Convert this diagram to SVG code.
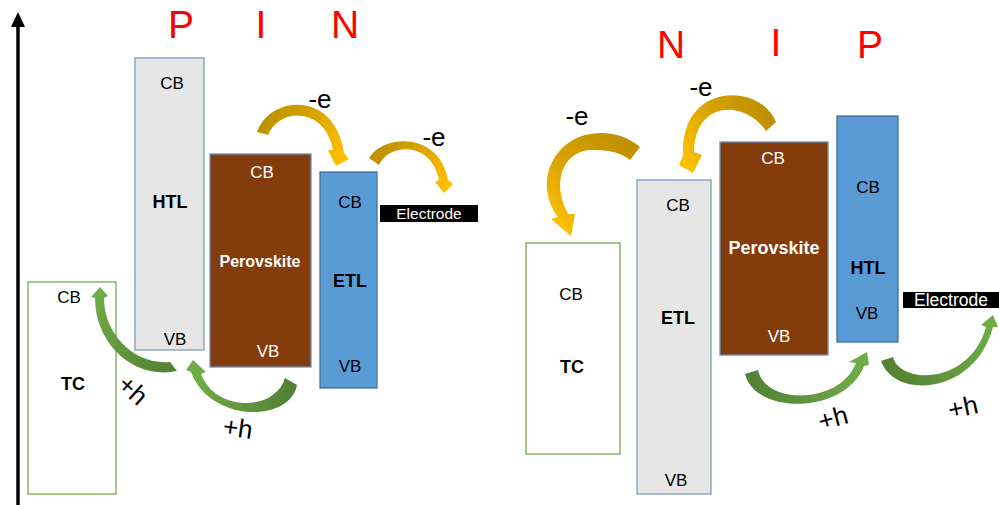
<svg xmlns="http://www.w3.org/2000/svg" width="999" height="505" viewBox="0 0 999 505">
<style>
  .t{font-family:"Liberation Sans",Arial,sans-serif;font-size:17px;text-anchor:middle;fill:#000}
  .b{font-weight:bold;font-size:18px}
  .w{fill:#fff}
  .big{font-family:"Liberation Sans",Arial,sans-serif;font-size:39px;fill:#ff0000;text-anchor:middle}
  .lab{font-family:"Liberation Sans",Arial,sans-serif;font-size:26px;fill:#000;text-anchor:middle}
  .gray{fill:#e7e6e6;stroke:#7f9bbd;stroke-width:1.3}
  .brown{fill:#843c0c;stroke:#6d8fb5;stroke-width:1.3}
  .blue{fill:#5b9bd5;stroke:#41719c;stroke-width:1.3}
  .tc{fill:#fff;stroke:#70ad47;stroke-width:1.3}
  .el{fill:#000}
</style>
<defs>
  <linearGradient id="gL1" gradientUnits="userSpaceOnUse" x1="260" y1="130" x2="340" y2="165"><stop offset="0" stop-color="#bf9000"/><stop offset="0.5" stop-color="#d9a400"/><stop offset="1" stop-color="#ffc000"/></linearGradient>
  <linearGradient id="gL2" gradientUnits="userSpaceOnUse" x1="372" y1="160" x2="444" y2="192"><stop offset="0" stop-color="#bf9000"/><stop offset="0.5" stop-color="#d9a400"/><stop offset="1" stop-color="#ffc000"/></linearGradient>
  <linearGradient id="gR1" gradientUnits="userSpaceOnUse" x1="635" y1="150" x2="565" y2="235"><stop offset="0" stop-color="#bf9000"/><stop offset="0.5" stop-color="#d9a400"/><stop offset="1" stop-color="#ffc000"/></linearGradient>
  <linearGradient id="gR2" gradientUnits="userSpaceOnUse" x1="772" y1="125" x2="690" y2="172"><stop offset="0" stop-color="#bf9000"/><stop offset="0.5" stop-color="#d9a400"/><stop offset="1" stop-color="#ffc000"/></linearGradient>
  <linearGradient id="hL1" gradientUnits="userSpaceOnUse" x1="175" y1="366" x2="100" y2="290"><stop offset="0" stop-color="#548235"/><stop offset="0.5" stop-color="#62983e"/><stop offset="1" stop-color="#70ad47"/></linearGradient>
  <linearGradient id="hL2" gradientUnits="userSpaceOnUse" x1="292" y1="380" x2="195" y2="362"><stop offset="0" stop-color="#548235"/><stop offset="0.5" stop-color="#62983e"/><stop offset="1" stop-color="#70ad47"/></linearGradient>
  <linearGradient id="hR1" gradientUnits="userSpaceOnUse" x1="750" y1="372" x2="864" y2="355"><stop offset="0" stop-color="#548235"/><stop offset="0.5" stop-color="#62983e"/><stop offset="1" stop-color="#70ad47"/></linearGradient>
  <linearGradient id="hR2" gradientUnits="userSpaceOnUse" x1="886" y1="360" x2="993" y2="318"><stop offset="0" stop-color="#548235"/><stop offset="0.5" stop-color="#62983e"/><stop offset="1" stop-color="#70ad47"/></linearGradient>
</defs>

<g id="axis">
  <line x1="18" y1="505" x2="18" y2="25" stroke="#000" stroke-width="3.5"/>
  <polygon points="11,27 25,27 18,12" fill="#000"/>
</g>

<g id="titles">
  <text class="big" x="181" y="38">P</text>
  <text class="big" x="261" y="38">I</text>
  <text class="big" x="345" y="38">N</text>
  <text class="big" x="671" y="58">N</text>
  <text class="big" x="776" y="56">I</text>
  <text class="big" x="870" y="58">P</text>
</g>

<!-- PIN side -->
<g id="pin-tc">
  <rect class="tc" x="28" y="282" width="88" height="212"/>
  <text class="t" x="69" y="303">CB</text>
  <text class="t b" x="73" y="390">TC</text>
</g>
<g id="pin-htl">
  <rect class="gray" x="135" y="58" width="69" height="292"/>
  <text class="t" x="172" y="89">CB</text>
  <text class="t b" x="170" y="208">HTL</text>
  <text class="t" x="175" y="345">VB</text>
</g>
<g id="pin-perovskite">
  <rect class="brown" x="210" y="154" width="101" height="213"/>
  <text class="t w" x="262" y="178">CB</text>
  <text class="t b w" x="260" y="267" style="font-size:16px">Perovskite</text>
  <text class="t w" x="268" y="357">VB</text>
</g>
<g id="pin-etl">
  <rect class="blue" x="320" y="172" width="57" height="216"/>
  <text class="t" x="350" y="208">CB</text>
  <text class="t b" x="350" y="287">ETL</text>
  <text class="t" x="350" y="372">VB</text>
</g>
<g id="pin-electrode">
  <rect class="el" x="380" y="205" width="98" height="17"/>
  <text class="t w" x="429" y="219" style="font-size:15.5px">Electrode</text>
</g>

<!-- NIP side -->
<g id="nip-tc">
  <rect class="tc" x="526" y="243" width="94" height="211"/>
  <text class="t" x="571" y="300">CB</text>
  <text class="t b" x="572" y="373">TC</text>
</g>
<g id="nip-etl">
  <rect class="gray" x="637" y="180" width="74" height="314"/>
  <text class="t" x="678" y="211">CB</text>
  <text class="t b" x="678" y="324">ETL</text>
  <text class="t" x="676" y="486">VB</text>
</g>
<g id="nip-perovskite">
  <rect class="brown" x="720" y="142" width="108" height="213"/>
  <text class="t w" x="773" y="164">CB</text>
  <text class="t b w" x="774" y="254">Perovskite</text>
  <text class="t w" x="779" y="342">VB</text>
</g>
<g id="nip-htl">
  <rect class="blue" x="837" y="116" width="61" height="226"/>
  <text class="t" x="868" y="193">CB</text>
  <text class="t b" x="868" y="274">HTL</text>
  <text class="t" x="867" y="319">VB</text>
</g>
<g id="nip-electrode">
  <rect class="el" x="903" y="292" width="96" height="16"/>
  <text class="t w" x="951" y="306" style="font-size:17.5px">Electrode</text>
</g>

<g id="connectors">
  <!-- PIN electrons -->
  <path fill="url(#gL1)" d="M257,132 C270,95 335,90 344,153 L349,159 L336,166 L328,150 L333,150 C325,107 280,107 268,135 Z"/>
  <path fill="url(#gL2)" d="M369,158 C385,133 440,133 448,180 L453,184 L444,193 L435,182 L439,180 C432,142 390,142 379,165 Z"/>
  <!-- PIN holes -->
  <path fill="url(#hL1)" d="M177,371 C135,380 95,345 95,298 L91,297 L100,287 L108,296 L104,298 C104,335 135,365 170,362 Z"/>
  <path fill="url(#hL2)" d="M297,385 C290,423 210,423 191,372 L186,370 L193,360 L206,372 L201,374 C215,412 275,412 285,378 Z"/>
  <!-- NIP electrons -->
  <path fill="url(#gR1)" d="M640,147 C625,134 605,130 585,135 C550,145 535,185 558,217 L551,219 L571,236 L575,214 L568,214 C550,180 565,150 592,150 C608,150 620,152 630,160 Z"/>
  <path fill="url(#gR2)" d="M776,122 C760,82 680,82 683,155 L679,165 L693,173 L702,155 L694,152 C695,100 745,100 766,131 Z"/>
  <!-- NIP holes -->
  <path fill="url(#hR1)" d="M745,374 C755,415 845,415 864,366 L869,365 L867,352 L849,362 L856,363 C840,405 765,405 758,370 Z"/>
  <path fill="url(#hR2)" d="M881,361 C895,400 975,395 993,327 L998,327 L993,315 L981,325 L986,327 C970,385 900,385 893,357 Z"/>
</g>

<g id="labels">
  <text class="lab" x="320" y="108">-e</text>
  <text class="lab" x="434" y="146">-e</text>
  <text class="lab" x="577" y="125">-e</text>
  <text class="lab" x="701" y="96">-e</text>
  <text class="lab" transform="translate(133,390) rotate(42)" x="0" y="9">+h</text>
  <text class="lab" transform="translate(238,428) rotate(8)" x="0" y="9">+h</text>
  <text class="lab" transform="translate(833,418) rotate(-15)" x="0" y="9">+h</text>
  <text class="lab" transform="translate(963,407) rotate(-12)" x="0" y="9">+h</text>
</g>
</svg>
